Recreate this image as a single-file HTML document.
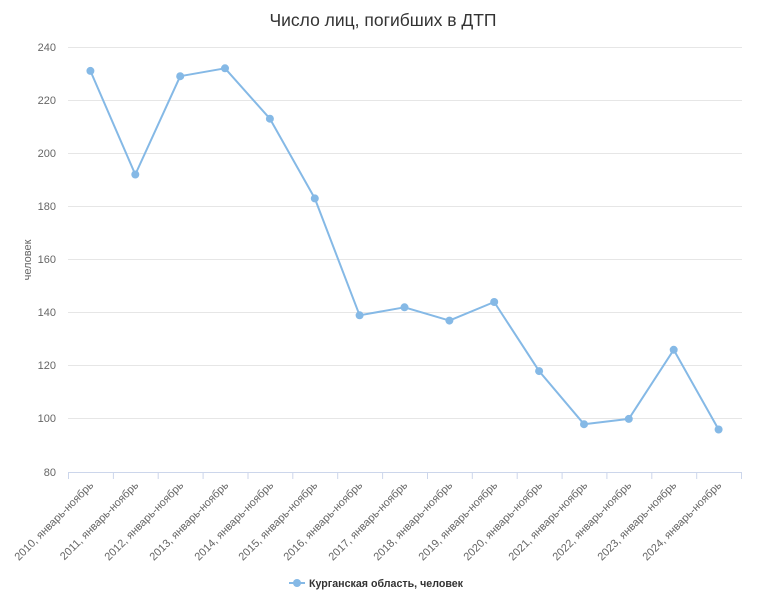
<!DOCTYPE html>
<html><head><meta charset="utf-8"><style>
html,body{margin:0;padding:0;background:#fff;}
svg{display:block;font-family:"Liberation Sans","DejaVu Sans",sans-serif;}
</style></head><body>
<svg width="760" height="606" viewBox="0 0 760 606" xmlns="http://www.w3.org/2000/svg">
<rect width="760" height="606" fill="#fff"/>
<text x="383" y="26" text-anchor="middle" font-size="17.5" fill="#333">Число лиц, погибших в ДТП</text>
<g stroke="#e6e6e6" stroke-width="1">
<line x1="68" x2="742" y1="47.5" y2="47.5"/>
<line x1="68" x2="742" y1="100.5" y2="100.5"/>
<line x1="68" x2="742" y1="153.5" y2="153.5"/>
<line x1="68" x2="742" y1="206.5" y2="206.5"/>
<line x1="68" x2="742" y1="259.5" y2="259.5"/>
<line x1="68" x2="742" y1="312.5" y2="312.5"/>
<line x1="68" x2="742" y1="365.5" y2="365.5"/>
<line x1="68" x2="742" y1="418.5" y2="418.5"/>
</g>
<line x1="68" x2="742" y1="472.5" y2="472.5" stroke="#ccd6eb"/>
<g stroke="#ccd6eb">
<line x1="68.5" x2="68.5" y1="472" y2="479"/><line x1="113.4" x2="113.4" y1="472" y2="479"/><line x1="158.2" x2="158.2" y1="472" y2="479"/><line x1="203.1" x2="203.1" y1="472" y2="479"/><line x1="248" x2="248" y1="472" y2="479"/><line x1="292.8" x2="292.8" y1="472" y2="479"/><line x1="337.7" x2="337.7" y1="472" y2="479"/><line x1="382.6" x2="382.6" y1="472" y2="479"/><line x1="427.5" x2="427.5" y1="472" y2="479"/><line x1="472.3" x2="472.3" y1="472" y2="479"/><line x1="517.2" x2="517.2" y1="472" y2="479"/><line x1="562.1" x2="562.1" y1="472" y2="479"/><line x1="606.9" x2="606.9" y1="472" y2="479"/><line x1="651.8" x2="651.8" y1="472" y2="479"/><line x1="696.7" x2="696.7" y1="472" y2="479"/><line x1="741.5" x2="741.5" y1="472" y2="479"/>
</g>
<g font-size="11" fill="#666" text-anchor="end">
<text x="56" y="51">240</text><text x="56" y="104">220</text><text x="56" y="157">200</text><text x="56" y="210">180</text><text x="56" y="263">160</text><text x="56" y="316">140</text><text x="56" y="369">120</text><text x="56" y="422">100</text><text x="56" y="476">80</text>
</g>
<text transform="translate(31,260) rotate(-90)" text-anchor="middle" font-size="11" fill="#666">человек</text>
<g font-size="11" fill="#666" text-anchor="end">
<text transform="translate(94,486) rotate(-45)">2010, январь-ноябрь</text>
<text transform="translate(139,486) rotate(-45)">2011, январь-ноябрь</text>
<text transform="translate(184,486) rotate(-45)">2012, январь-ноябрь</text>
<text transform="translate(229,486) rotate(-45)">2013, январь-ноябрь</text>
<text transform="translate(274,486) rotate(-45)">2014, январь-ноябрь</text>
<text transform="translate(318,486) rotate(-45)">2015, январь-ноябрь</text>
<text transform="translate(363,486) rotate(-45)">2016, январь-ноябрь</text>
<text transform="translate(408,486) rotate(-45)">2017, январь-ноябрь</text>
<text transform="translate(453,486) rotate(-45)">2018, январь-ноябрь</text>
<text transform="translate(498,486) rotate(-45)">2019, январь-ноябрь</text>
<text transform="translate(543,486) rotate(-45)">2020, январь-ноябрь</text>
<text transform="translate(588,486) rotate(-45)">2021, январь-ноябрь</text>
<text transform="translate(632,486) rotate(-45)">2022, январь-ноябрь</text>
<text transform="translate(677,486) rotate(-45)">2023, январь-ноябрь</text>
<text transform="translate(722,486) rotate(-45)">2024, январь-ноябрь</text>
</g>
<polyline fill="none" stroke="#85b9e6" stroke-width="2" stroke-linejoin="round" points="90.4,70.9 135.3,174.5 180.2,76.2 225,68.3 269.9,118.7 314.8,198.4 359.6,315.3 404.5,307.3 449.4,320.6 494.2,302 539.1,371.1 584,424.2 628.8,418.9 673.7,349.8 718.6,429.5"/>
<g fill="#85b9e6">
<circle cx="90.4" cy="70.9" r="4"/><circle cx="135.3" cy="174.5" r="4"/><circle cx="180.2" cy="76.2" r="4"/><circle cx="225" cy="68.3" r="4"/><circle cx="269.9" cy="118.7" r="4"/><circle cx="314.8" cy="198.4" r="4"/><circle cx="359.6" cy="315.3" r="4"/><circle cx="404.5" cy="307.3" r="4"/><circle cx="449.4" cy="320.6" r="4"/><circle cx="494.2" cy="302" r="4"/><circle cx="539.1" cy="371.1" r="4"/><circle cx="584" cy="424.2" r="4"/><circle cx="628.8" cy="418.9" r="4"/><circle cx="673.7" cy="349.8" r="4"/><circle cx="718.6" cy="429.5" r="4"/>
<line x1="289" x2="305" y1="583" y2="583" stroke="#85b9e6" stroke-width="2"/>
<circle cx="297" cy="583" r="4"/>
</g>
<text x="309" y="587" font-size="11" font-weight="bold" fill="#333" textLength="154" lengthAdjust="spacingAndGlyphs">Курганская область, человек</text>
</svg>
</body></html>
